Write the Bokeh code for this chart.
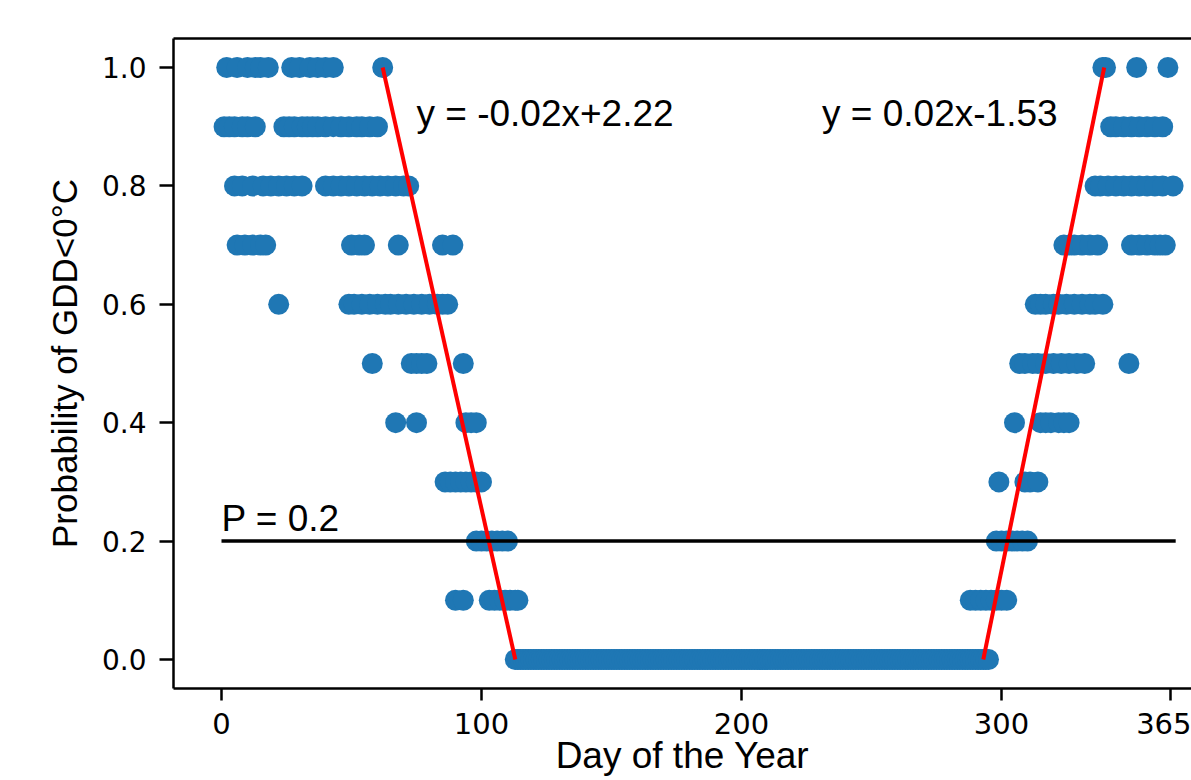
from bokeh.plotting import figure
from bokeh.models import LinearAxis, FixedTicker, Range1d, PrintfTickFormatter, ColumnDataSource
from bokeh.embed import file_html
from bokeh.resources import INLINE
from bokeh.core.properties import value

# ---- data: day of year for each probability level ----
days_10 = [2, 6, 10, 13, 15, 18, 27, 30, 34, 37, 40, 43, 62, 339, 340, 352, 364]
days_09 = [1, 3, 5, 8, 10, 13, 24, 26, 28, 31, 33, 35, 37, 40, 43, 46, 49, 52, 54, 57, 60,
           342, 344, 347, 350, 353, 356, 359, 362]
days_08 = [5, 8, 12, 16, 19, 22, 25, 28, 31, 40, 43, 46, 49, 52, 55, 58, 61, 64, 67, 70, 72,
           336, 338, 341, 344, 347, 350, 353, 356, 359, 362, 366]
days_07 = [6, 9, 12, 15, 17, 50, 53, 55, 68, 85, 89,
           324, 326, 328, 331, 334, 337, 350, 353, 356, 359, 361, 363]
days_06 = [22, 49, 51, 54, 57, 60, 63, 65, 68, 71, 74, 77, 80, 83, 85, 87,
           313, 315, 317, 320, 322, 325, 328, 331, 334, 336, 339]
days_05 = [58, 73, 75, 77, 79, 93, 307, 309, 312, 314, 317, 320, 323, 326, 329, 332, 349]
days_04 = [67, 75, 94, 96, 98, 305, 315, 317, 319, 322, 324, 326]
days_03 = [86, 88, 90, 92, 94, 96, 98, 100, 299, 309, 311, 314]
days_02 = [98, 100, 102, 104, 106, 108, 110, 298, 300, 302, 304, 306, 308, 310]
days_01 = [90, 93, 103, 105, 107, 109, 111, 113, 114, 288, 290, 292, 294, 296, 298, 300, 302]
days_00 = [113, 114, 115, 116, 117, 118, 119, 120, 121, 122, 123, 124, 125, 126, 127, 128, 129, 130, 131, 132,
           133, 134, 135, 136, 137, 138, 139, 140, 141, 142, 143, 144, 145, 146, 147, 148, 149, 150, 151, 152,
           153, 154, 155, 156, 157, 158, 159, 160, 161, 162, 163, 164, 165, 166, 167, 168, 169, 170, 171, 172,
           173, 174, 175, 176, 177, 178, 179, 180, 181, 182, 183, 184, 185, 186, 187, 188, 189, 190, 191, 192,
           193, 194, 195, 196, 197, 198, 199, 200, 201, 202, 203, 204, 205, 206, 207, 208, 209, 210, 211, 212,
           213, 214, 215, 216, 217, 218, 219, 220, 221, 222, 223, 224, 225, 226, 227, 228, 229, 230, 231, 232,
           233, 234, 235, 236, 237, 238, 239, 240, 241, 242, 243, 244, 245, 246, 247, 248, 249, 250, 251, 252,
           253, 254, 255, 256, 257, 258, 259, 260, 261, 262, 263, 264, 265, 266, 267, 268, 269, 270, 271, 272,
           273, 274, 275, 276, 277, 278, 279, 280, 281, 282, 283, 284, 285, 286, 287, 288, 289, 290, 291, 292,
           293, 294, 295]

levels = [1.0, 0.9, 0.8, 0.7, 0.6, 0.5, 0.4, 0.3, 0.2, 0.1, 0.0]
level_days = [days_10, days_09, days_08, days_07, days_06, days_05, days_04, days_03, days_02, days_01, days_00]

# fitted lines (end points) and threshold
fit_left_x = [62, 113]
fit_left_y = [1.0, 0.0]
fit_right_x = [293, 339.5]
fit_right_y = [0.0, 1.0]
thresh_x = [0, 367]
thresh_y = [0.2, 0.2]

ann_text = ["y = -0.02x+2.22", "y = 0.02x-1.53", "P = 0.2"]
ann_x = [75, 231, 0]
ann_y = [0.923, 0.923, 0.239]

x_ticks = [0, 100, 200, 300, 365]
y_ticks = [0.0, 0.2, 0.4, 0.6, 0.8, 1.0]

xs, ys = [], []
for lv, dl in zip(levels, level_days):
    xs.extend(dl)
    ys.extend([lv] * len(dl))

p = figure(width=1191, height=780,
           x_range=Range1d(-18.46, 373.08), y_range=Range1d(-0.049, 1.049),
           output_backend="svg", toolbar_location=None,
           min_border_left=173, min_border_top=38, min_border_right=0, min_border_bottom=92)
p.background_fill_color = "white"
p.border_fill_color = "white"
p.outline_line_color = None
p.grid.visible = False

p.scatter(xs, ys, size=21, fill_color="#1f77b4", line_color=None)

p.line(fit_left_x, fit_left_y, line_color="#ff0000", line_width=4)
p.line(fit_right_x, fit_right_y, line_color="#ff0000", line_width=4)
p.line(thresh_x, thresh_y, line_color="black", line_width=3.5)

src = ColumnDataSource(dict(x=ann_x, y=ann_y, t=ann_text))
p.text(x="x", y="y", text="t", source=src, text_font=value("Liberation Sans"),
       text_font_size="37px", text_color="black", text_align="left", text_baseline="middle")

# axes
xa = p.xaxis[0]
xa.ticker = FixedTicker(ticks=x_ticks)
xa.axis_label = "Day of the Year"
ya = p.yaxis[0]
ya.ticker = FixedTicker(ticks=y_ticks)
ya.formatter = PrintfTickFormatter(format="%.1f")
ya.axis_label = "Probability of GDD<0°C"

for ax in (xa, ya):
    ax.axis_line_width = 2.5
    ax.axis_line_color = "black"
    ax.major_tick_line_width = 2.5
    ax.major_tick_line_color = "black"
    ax.major_tick_in = 0
    ax.minor_tick_line_color = None
    ax.major_label_text_font = "DejaVu Sans"
    ax.major_label_text_font_size = "28px"
    ax.major_label_text_color = "black"
    ax.axis_label_text_font = "Liberation Sans"
    ax.axis_label_text_font_style = "normal"
    ax.axis_label_text_font_size = "35px"
    ax.axis_label_text_color = "black"

ya.major_tick_out = 14
ya.major_label_standoff = 13
ya.axis_label_standoff = 15
xa.major_tick_out = 12
xa.major_label_standoff = 12
xa.major_label_text_font_size = "29px"
xa.axis_label_text_font_size = "37px"
xa.axis_label_standoff = -2

top = LinearAxis(ticker=FixedTicker(ticks=[]), axis_line_width=2.5, axis_line_color="black",
                 major_tick_line_color=None, minor_tick_line_color=None,
                 major_label_text_font_size="0px")
p.add_layout(top, "above")

open("out.html", "w").write(file_html(p, INLINE))
